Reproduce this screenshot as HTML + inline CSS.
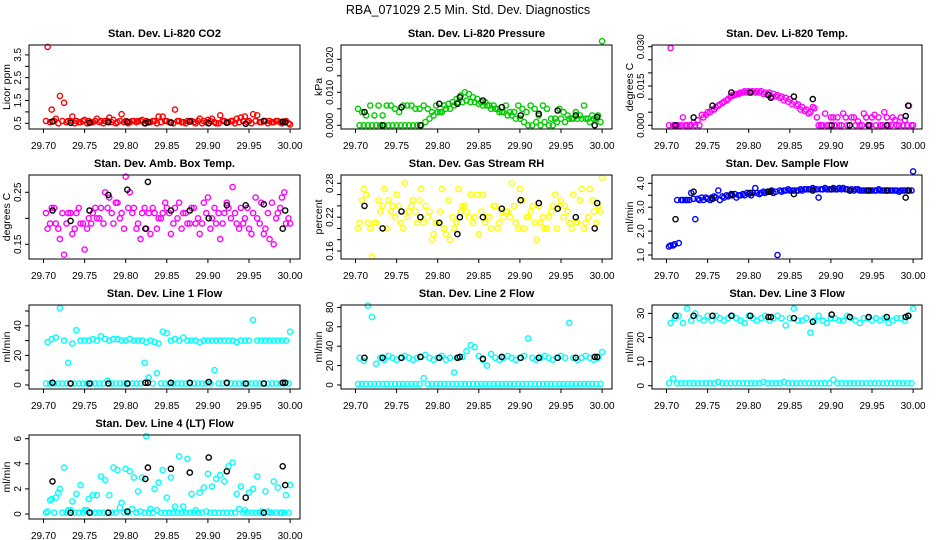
<!DOCTYPE html>
<html><head><meta charset="utf-8">
<style>
body{margin:0;background:#fff;}
svg{display:block;font-family:"Liberation Sans",sans-serif;}
</style></head>
<body>
<svg id="chart" width="936" height="540" viewBox="0 0 936 540">
<text x="468" y="14" text-anchor="middle" font-size="12.5">RBA_071029  2.5 Min. Std. Dev. Diagnostics</text>
</svg>
<script>
const times = [29.705,29.710,29.715,29.720,29.725,29.730,29.735,29.740,29.745,29.750,29.755,29.760,29.765,29.770,29.775,29.780,29.785,29.790,29.795,29.800,29.805,29.810,29.815,29.820,29.825,29.830,29.835,29.840,29.845,29.850,29.855,29.860,29.865,29.870,29.875,29.880,29.885,29.890,29.895,29.900,29.905,29.910,29.915,29.920,29.925,29.930,29.935,29.940,29.945,29.950,29.955,29.960,29.965,29.970,29.975,29.980,29.985,29.990,29.995,30.000];
const timesB = [29.703,29.708,29.713,29.718,29.723,29.728,29.733,29.738,29.743,29.748,29.753,29.758,29.763,29.768,29.773,29.778,29.783,29.788,29.793,29.798,29.803,29.808,29.813,29.818,29.823,29.828,29.833,29.838,29.843,29.848,29.853,29.858,29.863,29.868,29.873,29.878,29.883,29.888,29.893,29.898,29.903,29.908,29.913,29.918,29.923,29.928,29.933,29.938,29.943,29.948,29.953,29.958,29.963,29.968,29.973,29.978,29.983,29.988,29.993,29.998];
const blackT = [29.711,29.733,29.756,29.779,29.802,29.824,29.827,29.855,29.878,29.901,29.923,29.946,29.968,29.991,29.994];
const xTicks = [29.70,29.75,29.80,29.85,29.90,29.95,30.00];
const xTickLabels = ["29.70","29.75","29.80","29.85","29.90","29.95","30.00"];

const co2A = [3.85,1.1,0.7,1.7,1.4,0.6,0.8,0.6,0.55,0.65,0.6,0.55,0.7,0.6,0.6,0.75,0.65,0.55,0.9,0.6,0.55,0.6,0.6,0.65,0.6,0.55,0.6,0.8,0.8,0.6,0.55,1.1,0.6,0.55,0.6,0.6,0.5,0.7,0.6,0.65,0.7,0.5,0.85,0.6,0.55,0.6,0.7,0.75,0.8,0.6,0.9,0.85,0.55,0.6,0.6,0.55,0.6,0.5,0.6,0.45];
const co2B = [0.6,0.55,0.6,0.5,0.6,0.55,0.6,0.5,0.55,0.6,0.5,0.55,0.6,0.55,0.5,0.6,0.55,0.5,0.6,0.55,0.5,0.6,0.55,0.6,0.5,0.55,0.6,0.5,0.55,0.6,0.55,0.5,0.6,0.55,0.5,0.6,0.55,0.6,0.5,0.55,0.6,0.55,0.5,0.6,0.55,0.6,0.5,0.55,0.6,0.55,0.5,0.6,0.55,0.6,0.5,0.55,0.6,0.55,0.55,0.5];
const co2K = [0.58,0.52,0.52,0.55,0.57,0.5,0.55,0.52,0.58,0.5,0.52,0.48,0.6,0.57,0.55];

const presA = [0,0,0,0,0,0,0,0,0,0,0,0,0,0,0,0,0.001,0.002,0.003,0.004,0.004,0.005,0.005,0.006,0.007,0.007,0.0075,0.007,0.007,0.0065,0.006,0.006,0.005,0.005,0.004,0.004,0.003,0.003,0.002,0.002,0.001,0,0,0.001,0,0.001,0,0,0.001,0.002,0.001,0.002,0.002,0.002,0.002,0.002,0.001,0.002,0.003,0.0255];
const presB = [0.005,0.004,0.003,0.006,0.003,0.006,0.003,0.006,0.006,0.005,0.004,0.006,0.006,0.006,0.005,0.005,0.006,0.005,0.004,0.006,0.004,0.006,0.0065,0.007,0.008,0.009,0.010,0.0095,0.0085,0.008,0.007,0.007,0.006,0.006,0.005,0.004,0.006,0.004,0.004,0.006,0.005,0.004,0.006,0.005,0.003,0.006,0.005,0.002,0.002,0.005,0.004,0.003,0.002,0.004,0.003,0.006,0.002,0.003,0.002,0.001];
const presK = [0.004,0,0.0055,0,0.0065,0.0065,0.0085,0.0075,0.0055,0.003,0.0035,0.0045,0.003,0,0.0025];

const tempA = [0.0295,0,0,0.003,0,0,0,0,0.003,0.005,0.006,0.007,0.008,0.009,0.010,0.0115,0.012,0.0125,0.013,0.013,0.013,0.013,0.013,0.0125,0.0125,0.012,0.0115,0.011,0.0105,0.010,0.009,0.008,0.007,0.006,0.005,0.0065,0,0,0,0.003,0,0,0.0045,0,0.003,0,0,0.0045,0,0.003,0,0,0.005,0,0.003,0,0.003,0.002,0.0075,0];
const tempB = [0,0,0,0,0,0,0.001,0.002,0.004,0.004,0.005,0.006,0.0075,0.0085,0.0095,0.011,0.0115,0.012,0.0125,0.0125,0.0125,0.0125,0.0125,0.012,0.012,0.011,0.011,0.0105,0.0095,0.009,0.008,0.0075,0.006,0.0055,0.0045,0.007,0.003,0,0.0045,0,0.003,0.003,0,0.003,0,0.003,0.0015,0,0.003,0,0.004,0.003,0,0.003,0,0.002,0,0,0,0];
const tempK = [0,0.003,0.0075,0.0125,0.0125,0.0115,0.0105,0.011,0.01,0,0,0,0,0.0035,0.0075];

const ambA = [0.18,0.22,0.19,0.16,0.13,0.21,0.17,0.21,0.19,0.14,0.20,0.21,0.20,0.22,0.25,0.24,0.19,0.23,0.21,0.28,0.25,0.22,0.19,0.21,0.18,0.17,0.21,0.20,0.21,0.22,0.17,0.22,0.23,0.21,0.19,0.22,0.19,0.17,0.23,0.24,0.20,0.19,0.16,0.21,0.22,0.26,0.19,0.22,0.20,0.18,0.21,0.20,0.23,0.18,0.16,0.15,0.21,0.24,0.19,0.19];
const ambB = [0.21,0.19,0.22,0.18,0.21,0.19,0.21,0.18,0.22,0.19,0.18,0.19,0.22,0.20,0.19,0.22,0.21,0.23,0.20,0.18,0.22,0.21,0.18,0.16,0.22,0.21,0.22,0.18,0.20,0.23,0.21,0.19,0.20,0.18,0.21,0.19,0.22,0.20,0.19,0.21,0.18,0.22,0.21,0.19,0.23,0.20,0.21,0.18,0.19,0.22,0.17,0.24,0.19,0.17,0.21,0.23,0.20,0.22,0.25,0.20];
const ambK = [0.215,0.195,0.215,0.245,0.255,0.18,0.27,0.215,0.215,0.20,0.225,0.225,0.227,0.18,0.215];

const rhA = [0.21,0.27,0.21,0.15,0.21,0.23,0.27,0.25,0.24,0.26,0.21,0.28,0.23,0.25,0.21,0.27,0.24,0.23,0.19,0.21,0.27,0.19,0.18,0.2,0.27,0.24,0.23,0.26,0.22,0.19,0.26,0.22,0.20,0.24,0.21,0.22,0.23,0.28,0.21,0.27,0.20,0.22,0.24,0.18,0.21,0.20,0.22,0.24,0.20,0.25,0.24,0.21,0.26,0.21,0.27,0.21,0.27,0.23,0.24,0.29];
const rhB = [0.20,0.25,0.26,0.20,0.21,0.25,0.24,0.20,0.23,0.22,0.24,0.20,0.22,0.24,0.23,0.25,0.21,0.22,0.18,0.21,0.23,0.20,0.25,0.22,0.21,0.23,0.24,0.22,0.21,0.26,0.23,0.21,0.22,0.24,0.20,0.23,0.23,0.22,0.24,0.20,0.25,0.22,0.23,0.21,0.24,0.22,0.20,0.23,0.26,0.24,0.22,0.23,0.20,0.21,0.25,0.20,0.22,0.25,0.21,0.23];
const rhK = [0.24,0.20,0.23,0.22,0.21,0.19,0.22,0.22,0.235,0.25,0.245,0.235,0.22,0.20,0.245];

const flowA = [1.4,1.45,1.5,3.3,3.3,3.6,2.5,3.3,3.3,3.35,3.4,3.4,3.3,3.4,3.45,3.5,3.4,3.5,3.5,3.55,3.6,3.6,3.6,3.6,3.65,3.6,1.0,3.65,3.7,3.7,3.7,3.7,3.7,3.75,3.75,3.75,3.4,3.75,3.75,3.75,3.75,3.8,3.8,3.75,3.75,3.75,3.7,3.7,3.7,3.7,3.7,3.7,3.7,3.7,3.7,3.7,3.7,3.7,3.7,4.5];
const flowB = [1.35,1.4,3.3,3.3,3.3,3.3,3.35,3.35,3.4,3.4,3.3,3.45,3.7,3.45,3.5,3.5,3.55,3.5,3.55,3.6,3.5,3.8,3.55,3.65,3.65,3.7,3.65,3.7,3.7,3.75,3.7,3.7,3.75,3.75,3.75,3.8,3.75,3.75,3.8,3.75,3.8,3.75,3.75,3.75,3.7,3.7,3.75,3.7,3.7,3.7,3.7,3.75,3.7,3.7,3.7,3.7,3.65,3.7,3.7,3.7];
const flowK = [2.5,3.65,3.35,3.55,3.6,3.65,3.65,3.55,3.7,3.75,3.7,3.7,3.7,3.4,3.7];

const l1A = [29,31,32,52,30,15,28,37,30,30,30,31,30,33,31,30,31,31,30,30,31,30,30,30,29,30,29,28,36,35,30,31,30,32,30,30,30,29,30,30,30,30,30,30,30,30,29,30,30,30,44,30,30,30,30,30,30,30,30,36];
const l1B = [1,1,1,1,1,1,1,1,1,1,1,1,1,1,1,3,1,1,1,1,1,1,1,1,15,5,1,8,1,1,1,1,1,1,1,1,1,1,1,1,1,10,1,1,1,1,1,1,1,1,1,1,1,1,1,1,1,1,1,1];
const l1K = [1.5,1,1,1,1,1.5,1.5,1.5,1.5,2,1.5,1,1,1.5,1.5];

const l2A = [28,25,82,70,22,28,26,30,28,26,28,30,28,26,28,29,31,28,26,28,30,26,28,13,28,29,35,41,39,30,26,20,32,28,26,28,30,28,26,28,30,48,28,26,28,30,28,26,28,30,28,64,28,26,28,30,28,26,28,34];
const l2B = [1,1,1,1,1,1,1,1,1,1,1,1,1,1,1,1,7,1,1,1,1,1,1,1,1,1,1,1,1,1,1,1,1,1,1,1,1,1,1,1,1,1,1,1,1,1,1,1,1,1,1,1,1,1,1,1,1,1,1,1];
const l2K = [28,28,28,29,28,28,29,27,29,28,28,28,28,29,29];

const l3A = [26,28,29,26,32,27,30,28,27,29,27,29,28,27,28,29,28,27,26,29,28,27,28,29,27,28,29,28,25,28,32,27,27,28,22,27,29,27,26,28,28,27,27,29,28,27,26,28,28,27,28,27,28,26,27,28,28,27,29,32];
const l3B = [1,3,1,1,1,1,1,1,1,1,1,1,1.5,1,1,1,1,1,1,1,1,1,1,1.5,1,1,1,1,1.5,1,1,1,1,1,1,1,1,1,1,1,2.5,1,1,1,1,1,1,1,1,1,1,1,1,1,1,1,1,1,1,1];
const l3K = [29,29,29,29,29,28.5,28.5,28,26.5,29.5,28.5,28.5,28.5,28.5,29];

const l4A = [0.2,1.2,1.3,2.0,3.7,0.3,1.0,1.6,2.3,0.3,1.2,1.5,1.5,3.0,2.7,1.5,3.7,3.5,0.9,3.6,3.4,2.9,1.8,2.9,6.2,0.4,2.0,2.5,3.5,1.3,2.9,0.6,4.6,0.6,4.4,1.6,0.3,1.7,2.1,3.2,2.2,2.8,3.1,2.6,3.8,4.1,1.6,2.2,0.3,1.7,2.0,3.0,0.2,1.8,0.1,2.6,2.1,0.1,1.5,2.3];
const l4B = [0.1,1.1,0.1,1.7,0.1,0.1,0.3,0.1,0.1,0.1,0.3,0.1,0.1,0.1,0.1,0.1,0.1,0.1,0.5,0.1,0.1,0.4,0.1,0.2,0.1,0.1,0.1,0.3,0.1,0.1,0.1,0.1,0.1,0.1,0.1,0.1,0.1,0.1,0.1,0.2,0.1,0.1,0.1,0.1,0.1,0.1,0.1,0.4,0.1,0.1,0.1,0.1,0.1,0.1,0.2,0.1,0.1,0.1,0.1,0.1];
const l4K = [2.6,0.1,0.1,0.1,0.2,2.8,3.7,3.6,3.3,4.5,3.4,1.3,0.1,3.8,2.3];

const panels = [
 {name:"co2",title:"Stan. Dev. Li-820 CO2",ylab:"Licor ppm",col:0,row:0,color:"#ff0000",A:co2A,B:co2B,K:co2K,y0:0.5,py0:123.3,ppu:22.8,ticks:[0.5,1.0,1.5,2.0,2.5,3.0,3.5],labels:["0.5","","1.5","","2.5","","3.5"]},
 {name:"pressure",title:"Stan. Dev. Li-820 Pressure",ylab:"kPa",col:1,row:0,color:"#00cc00",A:presA,B:presB,K:presK,y0:0,py0:125.3,ppu:3300,ticks:[0,0.005,0.01,0.015,0.02],labels:["0.000","","0.010","","0.020"]},
 {name:"temp",title:"Stan. Dev. Li-820 Temp.",ylab:"degrees C",col:2,row:0,color:"#ff00ff",A:tempA,B:tempB,K:tempK,y0:0,py0:125.3,ppu:2620,ticks:[0,0.005,0.01,0.015,0.02,0.025,0.03],labels:["0.000","","","0.015","","","0.030"]},
 {name:"amb-box-temp",title:"Stan. Dev. Amb. Box Temp.",ylab:"degrees C",col:0,row:1,color:"#ff00ff",A:ambA,B:ambB,K:ambK,y0:0.15,py0:244.3,ppu:520,ticks:[0.15,0.2,0.25],labels:["0.15","","0.25"]},
 {name:"gas-rh",title:"Stan. Dev. Gas Stream RH",ylab:"percent",col:1,row:1,color:"#ffff00",A:rhA,B:rhB,K:rhK,y0:0.16,py0:251,ppu:564,ticks:[0.16,0.18,0.2,0.22,0.24,0.26,0.28],labels:["0.16","","","0.22","","","0.28"]},
 {name:"sample-flow",title:"Stan. Dev. Sample Flow",ylab:"ml/min",col:2,row:1,color:"#0000ff",A:flowA,B:flowB,K:flowK,y0:1.0,py0:255,ppu:23.9,ticks:[1,1.5,2,2.5,3,3.5,4],labels:["1.0","","2.0","","3.0","","4.0"]},
 {name:"line1-flow",title:"Stan. Dev. Line 1 Flow",ylab:"ml/min",col:0,row:2,color:"#00ffff",A:l1A,B:l1B,K:l1K,y0:0,py0:385,ppu:1.48,ticks:[0,10,20,30,40,50],labels:["0","","20","","40",""]},
 {name:"line2-flow",title:"Stan. Dev. Line 2 Flow",ylab:"ml/min",col:1,row:2,color:"#00ffff",A:l2A,B:l2B,K:l2K,y0:0,py0:385,ppu:0.97,ticks:[0,20,40,60,80],labels:["0","20","40","60","80"]},
 {name:"line3-flow",title:"Stan. Dev. Line 3 Flow",ylab:"ml/min",col:2,row:2,color:"#00ffff",A:l3A,B:l3B,K:l3K,y0:0,py0:385.7,ppu:2.41,ticks:[0,10,20,30],labels:["0","10","20","30"]},
 {name:"line4-flow",title:"Stan. Dev. Line 4 (LT) Flow",ylab:"ml/min",col:0,row:3,color:"#00ffff",A:l4A,B:l4B,K:l4K,y0:0,py0:514,ppu:12.55,ticks:[0,2,4,6],labels:["0","2","4","6"]}
];
const colLeft=[29,341,652], colRight=[300,612,922];
const NS="http://www.w3.org/2000/svg";
const svg=document.getElementById('chart');
function mk(tag,attrs,parent){const e=document.createElementNS(NS,tag);for(const k in attrs)e.setAttribute(k,attrs[k]);parent.appendChild(e);return e;}

panels.forEach(p=>{
  const L=colLeft[p.col],R=colRight[p.col],T=45+130*p.row,B=T+84;
  const xs=v=>L+14.5+(v-29.70)*822;
  const ys=v=>p.py0-(v-p.y0)*p.ppu;
  const g=mk('g',{},svg);
  
  
  const t=mk('text',{x:(L+R)/2,y:T-8,'text-anchor':'middle','font-size':11,'font-weight':'bold'},g);
  t.textContent=p.title;
  
  
  const clip=mk('g',{},g);
  
  
  const series=[[timesB,p.B,p.color],[times,p.A,p.color],[blackT,p.K,'#000']];
  series.forEach(s=>{
    s[1].forEach((v,i)=>{
      const c=mk('circle',{cx:xs(s[0][i]).toFixed(1),cy:ys(v).toFixed(1),r:2.6,fill:'none',stroke:s[2],'stroke-width':1.4},clip);
      
      
    });
  });
  const box=mk('rect',{x:L,y:T,width:R-L,height:B-T,fill:'none',stroke:'#000','stroke-width':1},g);
  
  
  const xa=mk('g',{},g);
  
  
  xTicks.forEach((v,i)=>{
    const x=xs(v);
    mk('line',{x1:x,x2:x,y1:B,y2:B+4,stroke:'#000'},xa);
    const tl=mk('text',{x:x,y:B+20,'text-anchor':'middle','font-size':10},xa);
    tl.textContent=xTickLabels[i];
  });
  const ya=mk('g',{},g);
  
  
  p.ticks.forEach((v,i)=>{
    const y=ys(v);
    mk('line',{x1:L-4,x2:L,y1:y,y2:y,stroke:'#000'},ya);
    if(p.labels[i]){
      const tl=mk('text',{x:L-8,y:y,'text-anchor':'middle','font-size':10,transform:`rotate(-90 ${L-8} ${y})`},ya);
      tl.textContent=p.labels[i];
    }
  });
  const yl=mk('text',{x:L-19,y:(T+B)/2,'text-anchor':'middle','font-size':10.5,transform:`rotate(-90 ${L-19} ${(T+B)/2})`},g);
  yl.textContent=p.ylab;
  
  
});
</script>
</body></html>
